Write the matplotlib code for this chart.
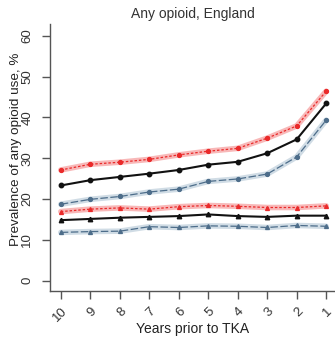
"""Prevalence of any opioid use in the ten years before TKA, England."""
import matplotlib
matplotlib.use("Agg")
import matplotlib.pyplot as plt

plt.rcParams["font.family"] = ["Liberation Sans", "DejaVu Sans"]

years = [10, 9, 8, 7, 6, 5, 4, 3, 2, 1]

# upper group (circles)
red_circ = [27.1, 28.5, 29.0, 29.7, 30.8, 31.7, 32.4, 34.9, 37.9, 46.4]
blk_circ = [23.3, 24.6, 25.4, 26.2, 27.1, 28.4, 29.1, 31.2, 34.6, 43.4]
blu_circ = [18.7, 19.9, 20.6, 21.7, 22.4, 24.3, 24.9, 26.1, 30.3, 39.3]

# lower group (triangles)
red_tri = [16.9, 17.5, 17.8, 17.5, 18.1, 18.4, 18.2, 17.9, 17.9, 18.3]
blk_tri = [14.8, 15.1, 15.4, 15.6, 15.8, 16.2, 15.8, 15.6, 15.9, 15.9]
blu_tri = [11.8, 12.0, 12.1, 13.2, 13.0, 13.4, 13.3, 13.0, 13.5, 13.3]

RED = "#ea2a2a"
RED_BAND = "#f8b8b8"
BLUE = "#4d6d8a"
BLUE_BAND = "#d0dce5"
BLACK = "#111111"
GREY = "#555555"

fig = plt.figure(figsize=(3.35, 3.47), dpi=100)
ax = fig.add_axes([0.149, 0.161, 0.851, 0.77])

x = list(range(len(years)))


def banded(vals, marker, band, col, dashes):
    ax.plot(x, vals, color=band, lw=4, solid_capstyle="round", zorder=2)
    ax.plot(x, vals, color=col, lw=0.9, dashes=dashes, zorder=3)
    ax.plot(x, vals, ls="none", marker=marker, ms=2.8, color=col, zorder=4)


for vals, m in [(red_circ, "o"), (red_tri, "^")]:
    banded(vals, m, RED_BAND, RED, (2, 1.5))
for vals, m in [(blu_circ, "o"), (blu_tri, "^")]:
    banded(vals, m, BLUE_BAND, BLUE, (6, 2))
for vals, m in [(blk_circ, "o"), (blk_tri, "^")]:
    ax.plot(x, vals, color=BLACK, lw=1.5, marker=m, ms=3.2, zorder=5)

ax.set_xlim(-0.37, 9.3)
ax.set_ylim(-2.6, 62.9)
ax.set_xticks(x)
ax.set_xticklabels([str(y) for y in years], rotation=45, ha="right",
                   rotation_mode="anchor")
ax.set_yticks([0, 10, 20, 30, 40, 50, 60])
ax.set_yticklabels(["0", "10", "20", "30", "40", "50", "60"], rotation=90,
                   va="center")

for s in ["top", "right"]:
    ax.spines[s].set_visible(False)
for s in ["left", "bottom"]:
    ax.spines[s].set_color(GREY)
    ax.spines[s].set_linewidth(1)
ax.tick_params(colors=GREY, labelcolor="#333333", labelsize=9.5, length=6,
               width=1)
ax.tick_params(axis="y", pad=6)
ax.tick_params(axis="x", pad=4)

ax.set_title("Any opioid, England", fontsize=10, color="#333333", pad=4)
ax.set_xlabel("Years prior to TKA", fontsize=10, color="#222222")
ax.set_ylabel("Prevalence of any opioid use, %", fontsize=9.7,
              color="#222222")
ax.yaxis.set_label_coords(-0.098, 0.53)
ax.xaxis.set_label_coords(0.5, -0.115)

fig.savefig("out.png", dpi=100)
